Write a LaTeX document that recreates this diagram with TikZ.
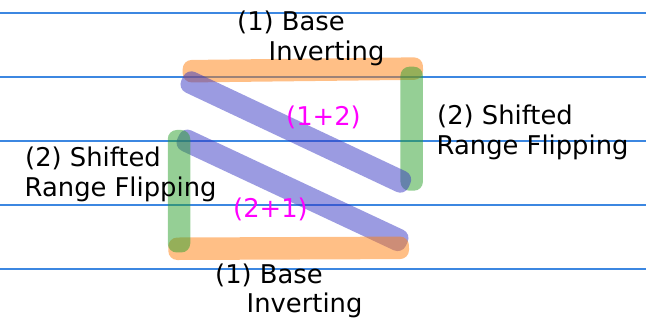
\documentclass[tikz,border=0pt]{standalone}
\usepackage{fontspec}
\setmainfont{DejaVu Sans}
\usetikzlibrary{calc}
\definecolor{gridblue}{RGB}{60,135,225}
\definecolor{barorange}{RGB}{255,127,14}
\definecolor{bargreen}{RGB}{44,160,44}
\definecolor{barblue}{RGB}{55,55,195}
\definecolor{mag}{RGB}{255,0,255}
\tikzset{
  gridline/.style={draw=gridblue, line width=1.4pt},
  barshape/.style={rectangle, rounded corners=9pt, minimum height=22.5pt, inner sep=0pt, draw=none, fill opacity=0.5},
  obar/.style={fill=barorange},
  gbar/.style={fill=bargreen},
  bbar/.style={fill=barblue},
  lbl/.style={anchor=base west, inner sep=0pt, font=\fontsize{25.8pt}{30pt}\selectfont, text=black},
  mlbl/.style={lbl, text=mag},
}
\newcommand\mybar[4]{%
  \path let \p1=($(#4)-(#3)$), \n1={veclen(\x1,\y1)} in
    (#3) -- (#4) node[midway, sloped, barshape, #1, minimum width=\n1] (#2) {};}
\begin{document}
\begin{tikzpicture}[x=1pt,y=-1pt]
\useasboundingbox (0,0) rectangle (646,328);
% horizontal grid lines
\foreach \yy/\nm in {13/a,77/b,141/c,205/d,269/e}{
  \coordinate (gl\nm) at (0,\yy);
  \coordinate (gr\nm) at (646,\yy);
  \draw[gridline] (gl\nm) -- (gr\nm);
}
% bar end points (outer ends on the bar axis)
\coordinate (TA) at (182.7,71.3);
\coordinate (TB) at (423,68.5);
\coordinate (RA) at (411.7,66.7);
\coordinate (RB) at (411.7,190.7);
\coordinate (B1A) at (182.3,78.5);
\coordinate (B1B) at (409.4,185.5);
\coordinate (B2A) at (178.3,136.8);
\coordinate (B2B) at (406.7,243.9);
\coordinate (BA) at (168.3,248.8);
\coordinate (BB) at (409,247.8);
\coordinate (LA) at (179,130);
\coordinate (LB) at (179,252.5);
% bars
\mybar{obar}{topbar}{TA}{TB}
\mybar{gbar}{rightbar}{RA}{RB}
\mybar{bbar}{diagone}{B1A}{B1B}
\mybar{bbar}{diagtwo}{B2A}{B2B}
\mybar{obar}{botbar}{BA}{BB}
\mybar{gbar}{leftbar}{LA}{LB}
% labels
\node[lbl] (top1) at (237,31) {(1) Base};
\node[lbl] (top2) at (268.5,61) {Inverting};
\node[lbl] (bot1) at (215,284) {(1) Base};
\node[lbl] (bot2) at (246.5,313) {Inverting};
\node[lbl] (lef1) at (25,167) {(2) Shifted};
\node[lbl] (lef2) at (24.5,197) {Range Flipping};
\node[lbl] (rig1) at (437,125) {(2) Shifted};
\node[lbl] (rig2) at (436.5,155) {Range Flipping};
\node[mlbl] (m12) at (286,126) {(1+2)};
\node[mlbl] (m21) at (233,218) {(2+1)};
\end{tikzpicture}
\end{document}
